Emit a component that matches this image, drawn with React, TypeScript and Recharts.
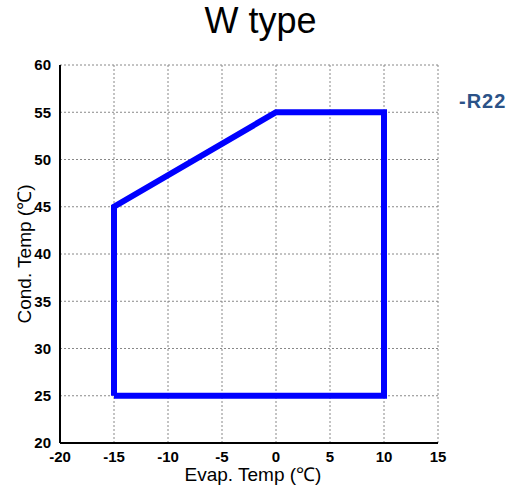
import { LineChart, Line, XAxis, YAxis, CartesianGrid, Label } from "recharts"

// operating envelope corners (evap temp, cond temp), closed polygon
const evapTemps = [-15, -15, 0, 10, 10, -15]
const condTemps = [25, 45, 55, 55, 25, 25]
const xTicks = [-20, -15, -10, -5, 0, 5, 10, 15]
const yTicks = [20, 25, 30, 35, 40, 45, 50, 55, 60]
const seriesName = "-R22"

const data = evapTemps.map((x, i) => ({ x, y: condTemps[i] }))

const tickStyle = {
  fill: "#000",
  fontSize: 15,
  fontWeight: 700,
  fontFamily: "Liberation Sans, Arial, sans-serif",
}

export default function App() {
  return (
    <div
      style={{
        position: "absolute",
        left: 0,
        top: 0,
        width: 517,
        height: 486,
        background: "#fff",
        fontFamily: "Liberation Sans, Arial, sans-serif",
      }}
    >
      <div
        style={{
          position: "absolute",
          left: 0,
          width: 517,
          top: 0,
          textAlign: "center",
          fontSize: 36,
          paddingLeft: 4,
          boxSizing: "border-box",
          color: "#000",
        }}
      >
        W type
      </div>
      <div
        style={{
          position: "absolute",
          left: 459,
          top: 90,
          fontSize: 20,
          fontWeight: 700,
          letterSpacing: 1,
          color: "#2b5287",
        }}
      >
        {seriesName}
      </div>
      <LineChart
        width={517}
        height={486}
        data={data}
        margin={{ top: 65, right: 79, bottom: 0, left: 0 }}
      >
        <CartesianGrid stroke="#888" strokeDasharray="2 2" />
        <XAxis
          dataKey="x"
          type="number"
          domain={[-20, 15]}
          ticks={xTicks}
          interval={0}
          height={43}
          tickLine={false}
          tickMargin={2}
          stroke="#000"
          strokeWidth={2}
          tick={tickStyle}
        >
          <Label
            value="Evap. Temp (℃)"
            position="insideBottom"
            offset={5}
            dx={4}
            style={{ fill: "#000", fontSize: 19 }}
          />
        </XAxis>
        <YAxis
          type="number"
          domain={[20, 60]}
          ticks={yTicks}
          interval={0}
          width={60}
          tickLine={false}
          tickMargin={3}
          stroke="#000"
          strokeWidth={2}
          tick={tickStyle}
        >
          <Label
            value="Cond. Temp (℃)"
            angle={-90}
            position="insideLeft"
            offset={24}
            style={{ fill: "#000", fontSize: 19, textAnchor: "middle" }}
          />
        </YAxis>
        <Line
          dataKey="y"
          type="linear"
          stroke="#0000ff"
          strokeWidth={6}
          dot={false}
          isAnimationActive={false}
        />
      </LineChart>
    </div>
  )
}
